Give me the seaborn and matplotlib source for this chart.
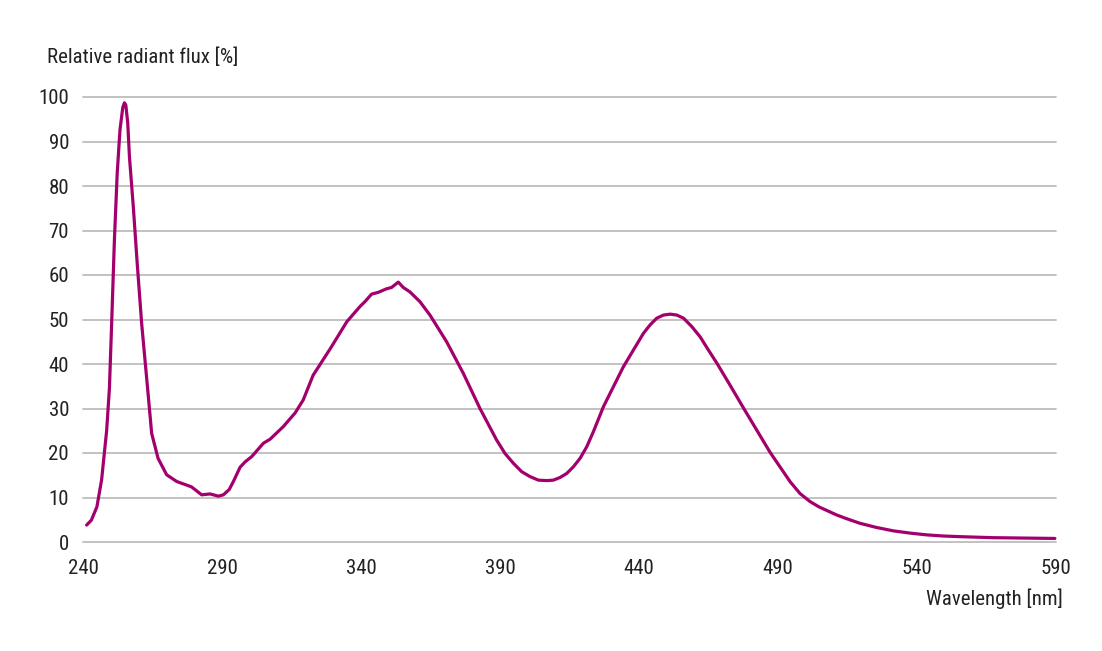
import numpy as np
import pandas as pd
import matplotlib
matplotlib.use("Agg")
import matplotlib.pyplot as plt
import seaborn as sns

# --------------------------
# Spectrum
# --------------------------
wavelength = [241.3, 243, 245, 246.7, 248.5, 249.5, 250.3, 251.3, 252.3, 253.3,
              253.9, 254.3, 254.9, 255.4, 256.1, 256.7, 258.1, 259.5, 261.1, 263.5,
              264.7, 267, 270.1, 273.7, 275, 279, 282.7, 285.7, 288.7, 290.5,
              292.6, 294.1, 296.5, 298.3, 300.7, 304.9, 307.3, 312, 316.3, 319.2,
              322.8, 329, 334.9, 339.6, 341.4, 343.8, 346.2, 349.2, 351, 353.4,
              355.2, 357.6, 361.2, 364.8, 370.8, 376.8, 382.8, 388.8, 391.8, 394.8,
              397.8, 400.8, 403.8, 406.8, 409.2, 411.6, 414, 416.4, 418.8, 421.2,
              423.6, 427.2, 434.4, 441.6, 444, 446.4, 448.8, 451.2, 453.6, 456,
              459, 462, 465, 468, 472.7, 477.5, 482.3, 487.1, 490.7, 494.3,
              497.9, 501.5, 504.7, 511, 514.4, 519.5, 525.2, 531.5, 537.5, 543.5,
              549.4, 555.5, 567.5, 589.6]
flux = [3.8, 4.9, 7.9, 14, 25, 34.5, 49, 67.9, 82.8, 92.6,
        95.6, 97.6, 98.7, 98.2, 94.1, 86.6, 75.3, 62.6, 49.1, 32.7,
        24.4, 18.8, 15.1, 13.6, 13.3, 12.4, 10.6, 10.8, 10.3, 10.6,
        11.8, 13.6, 16.8, 18, 19.2, 22.2, 23.1, 25.9, 29, 31.9,
        37.5, 43.5, 49.5, 52.9, 54, 55.7, 56.1, 56.9, 57.2, 58.4,
        57.2, 56.2, 54, 51, 45, 37.9, 30, 22.9, 19.9, 17.7,
        15.8, 14.7, 13.9, 13.8, 13.9, 14.5, 15.4, 16.9, 18.8, 21.4,
        24.8, 30.4, 39.4, 46.9, 48.8, 50.3, 51, 51.2, 51, 50.3,
        48.4, 46.1, 43.1, 40.2, 35.3, 30.2, 25.2, 20.2, 16.9, 13.6,
        10.9, 9.1, 7.9, 6.1, 5.3, 4.2, 3.3, 2.5, 2.0, 1.6,
        1.35, 1.2, 0.97, 0.8]

x_ticks = [240, 290, 340, 390, 440, 490, 540, 590]
y_ticks = [0, 10, 20, 30, 40, 50, 60, 70, 80, 90, 100]

df = pd.DataFrame({"Wavelength": wavelength, "Flux": flux})

sns.set_theme(style="whitegrid")
plt.rcParams["font.family"] = ["Roboto Condensed", "IBM Plex Sans Condensed", "DejaVu Sans"]

fig = plt.figure(figsize=(11.02, 6.51), dpi=100)
ax = fig.add_axes([83 / 1102, 1 - 542 / 651, (1056 - 83) / 1102, (542 - 97) / 651])

sns.lineplot(data=df, x="Wavelength", y="Flux", ax=ax, color="#A3006E",
             linewidth=2.3, sort=False, clip_on=False)
ax.lines[0].set_solid_joinstyle("round")

ax.set_xlim(240, 590)
ax.set_ylim(0, 100)
ax.set_xticks(x_ticks)
ax.set_yticks(y_ticks)
ax.grid(axis="x", visible=False)
ax.grid(axis="y", color="#BDBDBD", linewidth=1.3)
for gl in ax.get_ygridlines():
    gl.set_clip_on(False)
for s in ax.spines.values():
    s.set_visible(False)
ax.tick_params(axis="both", length=0, labelsize=15, colors="#222222")
ax.tick_params(axis="y", pad=10)
ax.tick_params(axis="x", pad=12)
ax.set_xlabel("")
ax.set_ylabel("")

fig.text(47 / 1102, 1 - 57 / 651, "Relative radiant flux [%]", ha="left", va="center",
         fontsize=15, color="#222222")
fig.text(1063 / 1102, 1 - 599 / 651, "Wavelength [nm]", ha="right", va="center",
         fontsize=15, color="#222222")

fig.savefig("out.png", dpi=100, facecolor="white")
